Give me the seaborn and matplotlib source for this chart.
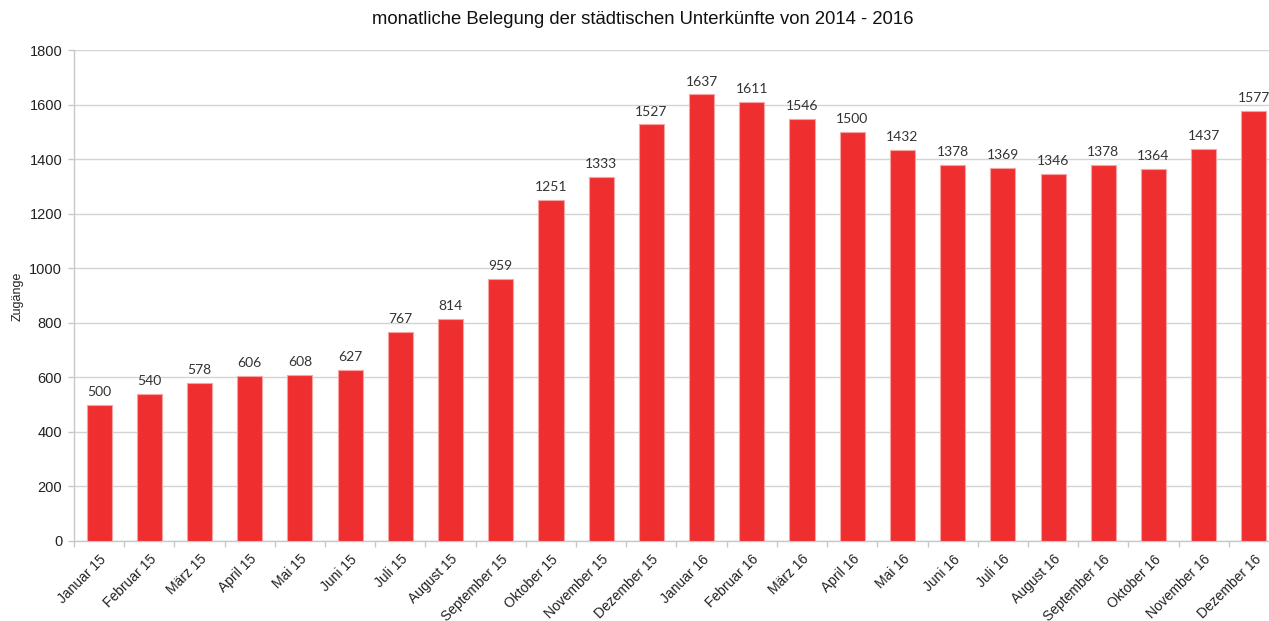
import matplotlib
matplotlib.use("Agg")
import matplotlib.pyplot as plt
import seaborn as sns
import pandas as pd
from matplotlib.ticker import FixedLocator

# Monthly occupancy of municipal accommodation
monate = [
    "Januar 15", "Februar 15", "März 15", "April 15", "Mai 15", "Juni 15",
    "Juli 15", "August 15", "September 15", "Oktober 15", "November 15", "Dezember 15",
    "Januar 16", "Februar 16", "März 16", "April 16", "Mai 16", "Juni 16",
    "Juli 16", "August 16", "September 16", "Oktober 16", "November 16", "Dezember 16",
]
zugaenge = [
    500, 540, 578, 606, 608, 627, 767, 814, 959, 1251, 1333, 1527,
    1637, 1611, 1546, 1500, 1432, 1378, 1369, 1346, 1378, 1364, 1437, 1577,
]
y_ticks = [0, 200, 400, 600, 800, 1000, 1200, 1400, 1600, 1800]

df = pd.DataFrame({"Monat": monate, "Zugänge": zugaenge})

sns.set_theme(style="white")
plt.rcParams["font.family"] = ["Liberation Sans", "DejaVu Sans"]

W, H = 1269, 621
fig = plt.figure(figsize=(W / 100, H / 100), dpi=100)
ax = fig.add_axes([74 / W, (H - 541) / H, 1205 / W, 491 / H])

sns.barplot(data=df, x="Monat", y="Zugänge", ax=ax, color="#ef2f2f",
            saturation=1, width=0.5, edgecolor="#f6a3a3", linewidth=0.8,
            zorder=3)

# value labels above the bars
ax.bar_label(ax.containers[0], labels=[str(v) for v in zugaenge], padding=5,
             fontsize=10, color="#333333", family=["Lato", "DejaVu Sans"])

ax.set_ylim(0, 1800)
ax.set_xlim(-0.5, len(monate) - 0.5)
ax.yaxis.set_major_locator(FixedLocator(y_ticks))
ax.set_yticklabels([str(t) for t in y_ticks])
ax.grid(axis="y", color="#d4d4d4", linewidth=1, zorder=0)
ax.grid(axis="x", visible=False)

grey = "#c8c8c8"
for side in ["top", "right"]:
    ax.spines[side].set_visible(False)
for side in ["left", "bottom"]:
    ax.spines[side].set_color(grey)
    ax.spines[side].set_linewidth(1)

ax.tick_params(axis="y", which="major", length=4, width=1, color=grey,
               labelsize=10.5, labelcolor="#222222", pad=4.5, left=True)
# month labels centred on bars, tick marks on category boundaries
ax.set_xticks(range(len(monate)))
ax.set_xticklabels(monate, rotation=45, ha="right", rotation_mode="anchor",
                   fontsize=10, color="#222222")
ax.xaxis.set_minor_locator(FixedLocator([i - 0.5 for i in range(len(monate) + 1)]))
ax.tick_params(axis="x", which="major", length=0, pad=8, bottom=True)
ax.tick_params(axis="x", which="minor", length=4, width=1, color=grey, bottom=True)

ax.set_xlabel("")
ax.set_ylabel("")
fig.text(18 / W, 1 - 296 / H, "Zugänge", rotation=90, ha="center", va="center",
         fontsize=9, color="#222222")

fig.text(643 / W, 1 - 20 / H, "monatliche Belegung der städtischen Unterkünfte von 2014 - 2016",
         ha="center", va="center", fontsize=13.3, color="#111111")

fig.savefig("out.png", dpi=100)
